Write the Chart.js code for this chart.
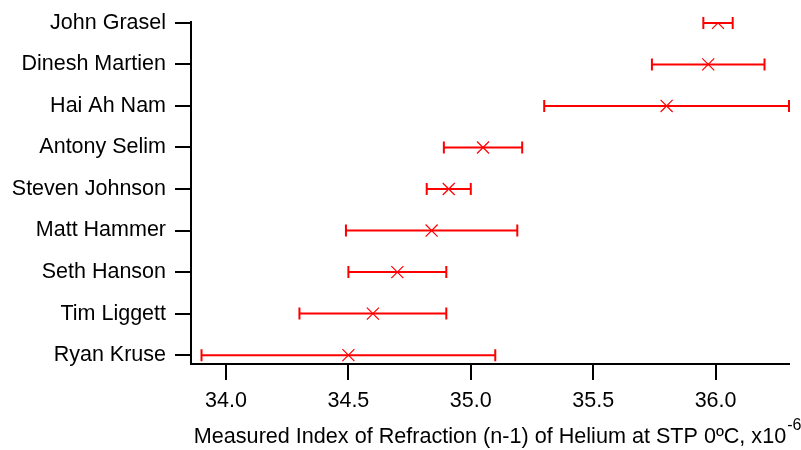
<!DOCTYPE html>
<html>
<head>
<meta charset="utf-8">
<script src="https://cdn.jsdelivr.net/npm/chart.js@4/dist/chart.umd.min.js"></script>
<style>
  body { margin: 0; background: #fff; }
  #wrap { width: 801px; height: 450px; }
</style>
</head>
<body>
<div id="wrap"><canvas id="chart" width="801" height="450"></canvas></div>
<script>
// names listed top to bottom as in the plot
const names = ['John Grasel', 'Dinesh Martien', 'Hai Ah Nam', 'Antony Selim', 'Steven Johnson',
  'Matt Hammer', 'Seth Hanson', 'Tim Liggett', 'Ryan Kruse'];
const values = [36.01, 35.97, 35.80, 35.05, 34.91, 34.84, 34.70, 34.60, 34.50];
const lows = [35.95, 35.74, 35.30, 34.89, 34.82, 34.49, 34.50, 34.30, 33.90];
const highs = [36.07, 36.20, 36.30, 35.21, 35.00, 35.19, 34.90, 34.90, 35.10];
const xTicks = [34.0, 34.5, 35.0, 35.5, 36.0];
const xTitle = 'Measured Index of Refraction (n-1) of Helium at STP 0ºC, x10';
const xTitleExp = '-6';

const RED = '#ff0000';
const FAMILY = '"Liberation Sans", Arial, sans-serif';
const FONT = { family: FAMILY, size: 21.5 };
const TITLE_FONT = { family: FAMILY, size: 21.6 };

const rowPos = (i) => names.length - 1 - i;

const points = values.map((v, i) => ({ x: v, y: rowPos(i) }));

// horizontal error bars with end caps
const errorBars = {
  id: 'errorBars',
  beforeDatasetsDraw(chart) {
    const { ctx, scales: { x, y } } = chart;
    ctx.save();
    ctx.strokeStyle = RED;
    ctx.lineWidth = 2;
    names.forEach((n, i) => {
      const py = y.getPixelForValue(rowPos(i));
      const x0 = x.getPixelForValue(lows[i]);
      const x1 = x.getPixelForValue(highs[i]);
      ctx.beginPath();
      ctx.moveTo(x0, py);
      ctx.lineTo(x1, py);
      ctx.moveTo(x0, py - 6);
      ctx.lineTo(x0, py + 6);
      ctx.moveTo(x1, py - 6);
      ctx.lineTo(x1, py + 6);
      ctx.stroke();
    });
    ctx.restore();
  }
};

// superscript exponent after the x axis title
const titleExponent = {
  id: 'titleExponent',
  afterDraw(chart) {
    const { ctx, scales: { x } } = chart;
    ctx.save();
    ctx.font = `${TITLE_FONT.size}px ${FAMILY}`;
    const w = ctx.measureText(xTitle).width;
    const cx = (x.left + x.right) / 2;
    ctx.font = `16px ${FAMILY}`;
    ctx.fillStyle = '#000';
    ctx.textBaseline = 'alphabetic';
    ctx.textAlign = 'left';
    ctx.fillText(xTitleExp, cx + w / 2 + 1, x.bottom - 20);
    ctx.restore();
  }
};

new Chart(document.getElementById('chart'), {
  type: 'scatter',
  data: {
    datasets: [{
      data: points,
      pointStyle: 'crossRot',
      pointRadius: 8.5,
      borderColor: RED,
      backgroundColor: RED,
      borderWidth: 1.2,
    }]
  },
  options: {
    responsive: false,
    animation: false,
    events: [],
    layout: { padding: { top: 16, right: 12, left: 0, bottom: 0 } },
    plugins: { legend: { display: false }, tooltip: { enabled: false } },
    scales: {
      x: {
        type: 'linear',
        min: 33.857,
        max: 36.30,
        afterBuildTicks: (s) => { s.ticks = xTicks.map((v) => ({ value: v })); },
        afterFit: (s) => { s.height = 86; },
        ticks: {
          color: '#000',
          font: FONT,
          padding: 8,
          callback: (v) => v.toFixed(1),
        },
        grid: { drawOnChartArea: false, drawTicks: true, tickLength: 16, color: '#000', lineWidth: 2 },
        border: { display: true, color: '#000', width: 2 },
        title: {
          display: true,
          text: xTitle,
          color: '#000',
          font: TITLE_FONT,
          padding: 0,
        },
      },
      y: {
        type: 'linear',
        min: -0.213,
        max: 8.024,
        afterBuildTicks: (s) => { s.ticks = names.map((n, i) => ({ value: rowPos(i) })); },
        afterFit: (s) => { s.width = 191; },
        ticks: {
          color: '#000',
          font: FONT,
          padding: 9,
          callback: (v) => names[names.length - 1 - v],
        },
        grid: { drawOnChartArea: false, drawTicks: true, tickLength: 16, color: '#000', lineWidth: 2 },
        border: { display: true, color: '#000', width: 2 },
      },
    },
  },
  plugins: [errorBars, titleExponent],
});
</script>
</body>
</html>
